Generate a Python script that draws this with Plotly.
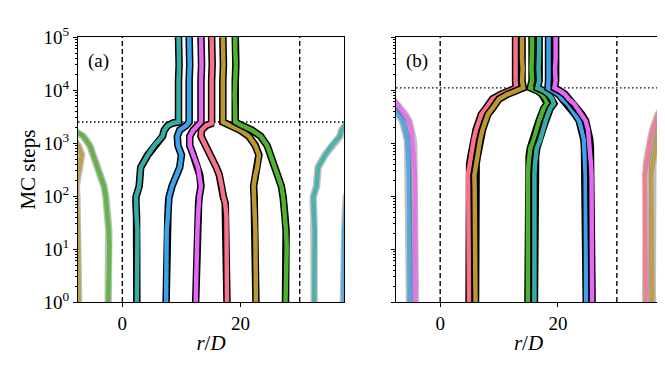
import numpy as np
import plotly.graph_objects as go

# husl palette used for the six particles
colors = {
    "red": "#f77189", "gold": "#bb9832", "green": "#50b131",
    "teal": "#36ada4", "blue": "#3ba3ec", "magenta": "#e866f4",
}

box_length = 30
box_edges = [0, 30]

# panel (a): merging at ~2500 MC steps
steps_a = [1, 3, 6, 11, 22, 42, 73, 96, 154, 250, 347, 597, 896, 1346, 1760,
           2150, 2400, 2500, 4000, 8000, 15000, 30000, 60000, 100000]
merge_a = 2500
teal_a = [2.45, 2.5, 2.5, 2.55, 2.55, 2.4, 2.3, 2.3, 2.85, 3.0, 3.1, 4.3, 5.4, 6.8, 7.1,
          7.7, 8.6, 9.5, 9.5, 9.4, 9.5, 9.6, 9.5, 9.5]
blue_a = [7.4, 7.4, 7.45, 7.4, 7.5, 7.7, 7.8, 7.9, 8.4, 9.3, 9.7, 10.0, 9.4, 9.3, 9.7,
          10.8, 11.1, 11.3, 11.3, 11.2, 11.3, 11.4, 11.3, 11.3]
magenta_a = [12.4, 12.45, 12.5, 12.6, 12.7, 12.8, 12.9, 13.0, 13.3, 13.1, 12.8, 12.0, 11.4, 11.4, 12.0,
             12.8, 13.1, 13.3, 13.3, 13.2, 13.3, 13.4, 13.3, 13.3]
red_a = [17.7, 17.7, 17.7, 17.7, 17.7, 17.6, 17.4, 17.1, 16.8, 16.4, 15.9, 14.8, 14.0, 13.3, 13.4,
         14.2, 15.3, 15.1, 15.1, 15.0, 15.1, 15.2, 15.1, 15.1]
gold_a = [22.6, 22.6, 22.55, 22.5, 22.5, 22.4, 22.3, 22.3, 22.2, 22.5, 22.8, 23.1, 22.5, 21.4, 19.9,
          18.2, 17.3, 17.0, 17.0, 16.9, 17.0, 17.1, 17.0, 17.0]
green_a = [27.6, 27.7, 27.8, 27.8, 27.7, 27.5, 27.4, 27.2, 26.9, 26.2, 25.9, 25.1, 24.5, 23.4, 21.9,
           20.2, 19.4, 19.1, 19.1, 19.0, 19.1, 19.2, 19.1, 19.1]

# panel (b): merging at ~1.1e4 MC steps
steps_b = [1, 3, 8, 20, 37, 80, 150, 247, 400, 557, 800, 1170, 1800, 2630, 3500, 4550,
           5570, 6800, 8300, 9550, 11000, 15000, 25000, 40000, 60000, 100000]
merge_b = 11000
red_b = [4.9, 4.9, 4.9, 4.9, 4.85, 4.8, 4.75, 4.7, 5.0, 5.2, 5.4, 5.7, 6.1, 6.6, 7.0, 7.8,
         8.3, 8.9, 10.3, 11.7, 12.9, 12.8, 12.9, 12.8, 12.8, 12.8]
gold_b = [6.0, 6.0, 6.0, 6.0, 5.95, 5.9, 5.85, 5.8, 6.1, 6.3, 6.5, 6.8, 7.2, 7.7, 8.1, 8.9,
          9.4, 10.0, 11.4, 12.8, 14.1, 13.9, 14.0, 13.9, 13.9, 13.9]
green_b = [14.9, 14.9, 14.85, 14.8, 14.8, 14.85, 14.9, 14.9, 15.0, 15.1, 15.3, 15.9, 16.3, 16.8, 17.2, 17.6,
           18.2, 17.9, 17.3, 16.6, 15.3, 15.6, 15.5, 15.6, 15.6, 15.6]
teal_b = [16.0, 16.0, 15.95, 15.9, 15.9, 15.95, 16.0, 16.0, 16.1, 16.2, 16.4, 17.0, 17.4, 17.9, 18.3, 18.7,
          19.3, 19.0, 18.4, 17.7, 16.5, 16.8, 16.7, 16.8, 16.8, 16.8]
blue_b = [24.8, 24.8, 24.8, 24.8, 24.8, 24.75, 24.7, 24.7, 24.6, 24.5, 24.5, 24.4, 24.0, 23.6, 22.9, 22.1,
          21.6, 20.7, 20.1, 19.3, 18.3, 18.4, 18.4, 18.3, 18.4, 18.4]
magenta_b = [25.8, 25.8, 25.8, 25.8, 25.8, 25.75, 25.7, 25.7, 25.6, 25.5, 25.5, 25.4, 25.1, 24.7, 24.0, 23.2,
             22.7, 21.8, 21.2, 20.4, 19.4, 19.6, 19.5, 19.6, 19.6, 19.6]

panel_a = [("teal", teal_a), ("blue", blue_a), ("magenta", magenta_a),
           ("red", red_a), ("gold", gold_a), ("green", green_a)]
panel_b = [("red", red_b), ("gold", gold_b), ("green", green_b),
           ("teal", teal_b), ("blue", blue_b), ("magenta", magenta_b)]

fig = go.Figure()


def add_path(x, y, color, xa, ya, image=False):
    edge = "rgba(0,0,0,0.25)" if image else "black"
    fig.add_trace(go.Scatter(x=x, y=y, mode="lines", xaxis=xa, yaxis=ya,
                             line=dict(color=edge, width=7.5), showlegend=False,
                             hoverinfo="skip"))
    fig.add_trace(go.Scatter(x=x, y=y, mode="lines", xaxis=xa, yaxis=ya,
                             line=dict(color=color, width=4.5), showlegend=False,
                             opacity=0.8 if image else 1.0))


for steps, panel, xa, ya in [(steps_a, panel_a, "x", "y"), (steps_b, panel_b, "x2", "y2")]:
    # periodic images first (faded)
    for name, xs in panel:
        xs = np.array(xs)
        add_path(xs - box_length, steps, colors[name], xa, ya, image=True)
        add_path(xs + box_length, steps, colors[name], xa, ya, image=True)
    for name, xs in panel:
        add_path(xs, steps, colors[name], xa, ya)

font = dict(family="Liberation Serif", size=19, color="black")
title_font = dict(family="Liberation Serif", size=21, color="black")
ytickv = [1, 10, 100, 1000, 10000, 100000]
ytickt = ["10<sup>%d</sup>" % k for k in range(6)]
minor_vals = [m * 10 ** k for k in range(5) for m in range(2, 10)]

axis_common = dict(showline=True, mirror=True, linecolor="black", linewidth=1,
                   showgrid=False, zeroline=False, ticks="outside", ticklen=4,
                   tickwidth=1, tickcolor="black", tickfont=font)

for i, (xa, ya) in enumerate([("xaxis", "yaxis"), ("xaxis2", "yaxis2")]):
    dom = [0.1053, 0.5053] if i == 0 else [0.5835, 0.982]
    fig.layout[xa] = dict(domain=dom, range=[-7.5, 37.5], tickvals=[0, 20],
                          anchor="y" if i == 0 else "y2",
                          title=dict(text="<i>r</i>/<i>D</i>", font=title_font, standoff=2),
                          **axis_common)
    fig.layout[ya] = dict(domain=[0.178, 0.953], type="log", range=[0, 5],
                          tickmode="array", tickvals=ytickv, ticktext=ytickt,
                          showticklabels=(i == 0), anchor="x" if i == 0 else "x2",
                          minor=dict(ticks="outside", ticklen=2, tickwidth=0.8,
                                     tickcolor="black", tickmode="array",
                                     tickvals=minor_vals),
                          title=dict(text="MC steps" if i == 0 else "", font=title_font, standoff=2),
                          **axis_common)

shapes = []
for xr, yr, merge in [("x", "y", merge_a), ("x2", "y2", merge_b)]:
    for e in box_edges:
        shapes.append(dict(type="line", xref=xr, yref=yr + " domain", x0=e, x1=e, y0=0, y1=1,
                           line=dict(color="black", width=1.4, dash="5px,3px"), layer="below"))
    shapes.append(dict(type="line", xref=xr + " domain", yref=yr, x0=0, x1=1,
                       y0=merge, y1=merge,
                       line=dict(color="black", width=1.4, dash="1.5px,2.5px"), layer="below"))

annotations = [
    dict(text="(a)", xref="x domain", yref="y domain", x=0.03, y=0.91,
         xanchor="left", yanchor="middle", showarrow=False, font=font),
    dict(text="(b)", xref="x2 domain", yref="y2 domain", x=0.03, y=0.91,
         xanchor="left", yanchor="middle", showarrow=False, font=font),
]

fig.update_layout(width=665, height=366, margin=dict(l=0, r=0, t=0, b=0),
                  plot_bgcolor="white", paper_bgcolor="white",
                  shapes=shapes, annotations=annotations, font=font)
fig.write_html("out.html")
